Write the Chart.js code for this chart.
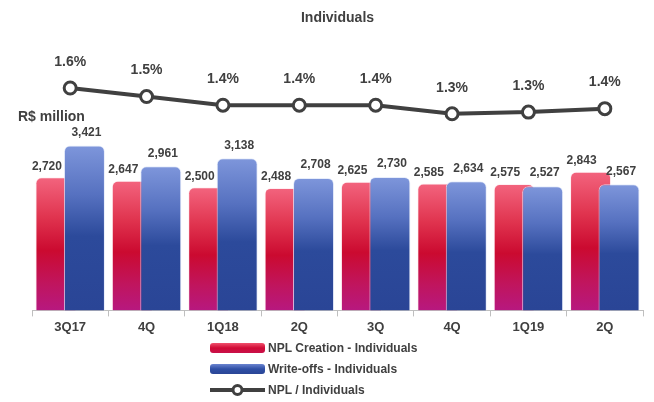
<!DOCTYPE html>
<html>
<head>
<meta charset="utf-8">
<script src="https://cdn.jsdelivr.net/npm/chart.js@4.4.1/dist/chart.umd.min.js"></script>
<style>
    body { margin: 0; background: #fff; }
    #wrap { width: 654px; height: 402px; }
</style>
</head>
<body>
<div id="wrap"><canvas id="npl-chart"></canvas></div>
<script>
// Chart data
const quarters = ['3Q17', '4Q', '1Q18', '2Q', '3Q', '4Q', '1Q19', '2Q'];
const nplCreation = [2720, 2647, 2500, 2488, 2625, 2585, 2575, 2843];
const writeOffs = [3421, 2961, 3138, 2708, 2730, 2634, 2527, 2567];
const nplRatio = [1.60, 1.50, 1.40, 1.40, 1.40, 1.30, 1.32, 1.36];
const seriesNames = ['NPL Creation - Individuals', 'Write-offs - Individuals', 'NPL / Individuals'];

const FONT = "'Liberation Sans', Arial, sans-serif";
const TEXT = '#404040';
const BAR_BASE = -200;

function barGradient(context, stops) {
    const chart = context.chart;
    const area = chart.chartArea;
    if (!area) return stops[stops.length - 1][1];
    let top = area.top;
    if (context.type === 'data' && chart.scales.y) {
        top = chart.scales.y.getPixelForValue(context.raw);
    }
    const g = chart.ctx.createLinearGradient(0, top, 0, area.bottom);
    stops.forEach(s => g.addColorStop(s[0], s[1]));
    return g;
}

const redStops = [[0, '#f3647e'], [0.3, '#e0344f'], [0.55, '#cb0a30'], [0.8, '#c0155e'], [1, '#b7187f']];
const blueStops = [[0, '#7e96db'], [0.3, '#5671c0'], [0.55, '#2c4a9b'], [1, '#2a4596']];

// Write-offs bars overlap the NPL creation bars, so draw them after the red ones
let drawingBlue = false;
const overlapPlugin = {
    id: 'overlapPlugin',
    beforeDatasetDraw(chart, args) {
        if (args.index === 1 && !drawingBlue) return false;
    },
    afterDatasetDraw(chart, args) {
        if (args.index === 0) {
            drawingBlue = true;
            chart.getDatasetMeta(1).controller.draw();
            drawingBlue = false;
        }
    }
};

// Value labels, axis caption and legend
const labelsPlugin = {
    id: 'labelsPlugin',
    afterDatasetsDraw(chart) {
        const ctx = chart.ctx;
        ctx.save();
        ctx.fillStyle = TEXT;
        ctx.textAlign = 'center';
        ctx.textBaseline = 'middle';

        ctx.font = 'bold 12px ' + FONT;
        chart.getDatasetMeta(0).data.forEach((bar, i) => {
            ctx.fillText(nplCreation[i].toLocaleString('en-US'), bar.x - 9, bar.y - 11);
        });
        chart.getDatasetMeta(1).data.forEach((bar, i) => {
            ctx.fillText(writeOffs[i].toLocaleString('en-US'), bar.x + 2, bar.y - 13);
        });

        ctx.font = 'bold 14px ' + FONT;
        chart.getDatasetMeta(2).data.forEach((pt, i) => {
            ctx.fillText(nplRatio[i].toFixed(1) + '%', pt.x, pt.y - 26);
        });

        ctx.textAlign = 'left';
        ctx.fillText('R$ million', 18, 117);

        // legend
        const rows = [348, 369, 390];
        ctx.font = 'bold 12px ' + FONT;
        rows.forEach((y, i) => {
            if (i < 2) {
                const g = ctx.createLinearGradient(0, y - 5, 0, y + 5);
                (i === 0 ? [[0, '#f0506c'], [0.5, '#d00a35'], [1, '#c8104a']] : [[0, '#6a84d0'], [0.5, '#2f4fa5'], [1, '#2a4596']])
                    .forEach(s => g.addColorStop(s[0], s[1]));
                ctx.fillStyle = g;
                ctx.beginPath();
                ctx.roundRect(210, y - 5, 55, 10, 3);
                ctx.fill();
            } else {
                ctx.strokeStyle = TEXT;
                ctx.lineWidth = 4;
                ctx.beginPath();
                ctx.moveTo(210, y);
                ctx.lineTo(265, y);
                ctx.stroke();
                ctx.fillStyle = '#fff';
                ctx.lineWidth = 3;
                ctx.beginPath();
                ctx.arc(237.5, y, 4.5, 0, Math.PI * 2);
                ctx.fill();
                ctx.stroke();
            }
            ctx.fillStyle = TEXT;
            ctx.fillText(seriesNames[i], 268, y + 1);
        });
        ctx.restore();
    }
};

const ctx = document.getElementById('npl-chart').getContext('2d');
const nplChart = new Chart(ctx, {
    type: 'bar',
    data: {
        labels: quarters,
        datasets: [{
            label: seriesNames[0],
            data: nplCreation,
            base: BAR_BASE,
            backgroundColor: c => barGradient(c, redStops),
            borderColor: 'rgba(255,235,240,0.8)',
            borderWidth: 1,
            borderSkipped: 'bottom',
            borderRadius: { topLeft: 6, topRight: 6 },
            categoryPercentage: 0.746,
            barPercentage: 1.44
        }, {
            label: seriesNames[1],
            data: writeOffs,
            base: BAR_BASE,
            backgroundColor: c => barGradient(c, blueStops),
            borderColor: 'rgba(225,232,250,0.8)',
            borderWidth: 1,
            borderSkipped: 'bottom',
            borderRadius: { topLeft: 6, topRight: 6 },
            categoryPercentage: 0.746,
            barPercentage: 1.44
        }, {
            type: 'line',
            label: seriesNames[2],
            data: nplRatio,
            yAxisID: 'y2',
            borderColor: TEXT,
            borderWidth: 4,
            tension: 0,
            pointRadius: 6,
            pointHoverRadius: 6,
            pointBackgroundColor: '#fff',
            pointBorderColor: TEXT,
            pointBorderWidth: 3
        }]
    },
    options: {
        responsive: true,
        maintainAspectRatio: false,
        animation: false,
        layout: {
            padding: { left: 32, right: 11, top: 0, bottom: 64 }
        },
        scales: {
            x: {
                ticks: {
                    color: TEXT,
                    font: { family: FONT, size: 13, weight: 'bold' },
                    padding: 3
                },
                grid: {
                    drawOnChartArea: false,
                    drawTicks: true,
                    tickLength: 6,
                    color: '#bfbfbf'
                },
                border: { color: '#bfbfbf', width: 1 }
            },
            y: {
                display: false,
                min: BAR_BASE,
                max: 5760
            },
            y2: {
                display: false,
                min: -0.98,
                max: 2.17
            }
        },
        plugins: {
            legend: { display: false },
            tooltip: { enabled: false },
            title: {
                display: true,
                text: 'Individuals',
                color: TEXT,
                font: { family: FONT, size: 14, weight: 'bold' },
                padding: { top: 10, bottom: 12 }
            }
        }
    },
    plugins: [overlapPlugin, labelsPlugin]
});
</script>
</body>
</html>
